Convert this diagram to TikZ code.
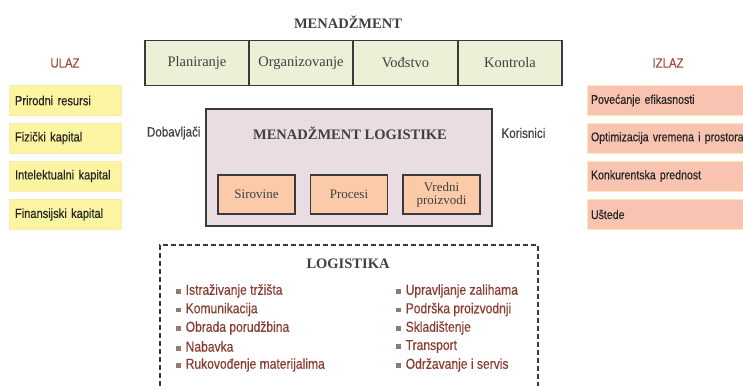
\documentclass[tikz,border=0pt]{standalone}
\usepackage{fontspec}
\setmainfont{Liberation Serif}
\newfontfamily\narrowsf[FakeStretch=0.84,FakeBold=0.35]{Liberation Sans}
\usetikzlibrary{positioning}
\definecolor{mgray}{HTML}{404040}
\definecolor{mborder}{HTML}{3A3A3A}
\definecolor{mgreen}{HTML}{EBF0D6}
\definecolor{myellow}{HTML}{FBF4A0}
\definecolor{msalmon}{HTML}{F8C3B0}
\definecolor{mpink}{HTML}{EADCE3}
\definecolor{mpeach}{HTML}{FBCAA8}
\definecolor{mred}{HTML}{A04A3E}
\definecolor{mlist}{HTML}{8A3B30}
\definecolor{mbullet}{HTML}{8C7D6E}
\newcommand{\sqbullet}{\textcolor{mbullet}{\raisebox{1pt}{\rule{4.5pt}{4.5pt}}}\hspace{5pt}}

\begin{document}
\begin{tikzpicture}[x=1pt, y=-1pt,
    mgmt/.style={draw=mborder, line width=1.4pt, fill=mgreen, minimum width=104pt,
      minimum height=45pt, text=mgray, font=\fontsize{14.5}{16}\selectfont},
    sidebox/.style={minimum height=30pt, inner xsep=6pt, align=left,
      text=black!85, font=\narrowsf\fontsize{13.2}{15}\selectfont},
    inbox/.style={sidebox, fill=myellow, draw=myellow!80!orange!60, line width=0.4pt,
      text width=100pt},
    outbox/.style={sidebox, fill=msalmon, draw=myellow!80!orange!60, line width=0.4pt,
      inner xsep=4pt, text width=164pt, font=\narrowsf\fontsize{12.6}{15}\selectfont},
    heading/.style={text=mgray, font=\bfseries\fontsize{14.5}{16}\selectfont},
    sidelabel/.style={text=mred, font=\narrowsf\fontsize{13.5}{15}\selectfont},
    flowlabel/.style={text=mgray, font=\narrowsf\fontsize{13.8}{15}\selectfont},
    stage/.style={draw=mborder, line width=1.2pt, fill=mpeach, minimum width=77pt,
      minimum height=39pt, align=center, text=mgray, font=\fontsize{13}{15}\selectfont},
    listitem/.style={anchor=west, inner sep=0pt, text=mlist,
      font=\narrowsf\fontsize{14.4}{16}\selectfont}]
  \useasboundingbox (0,0) rectangle (743,385);

  % upravljanje
  \node [heading] (mgmttitle) at (348,22) {MENADŽMENT};
  \node [mgmt] (plan) at (197,63) {Planiranje};
  \node [mgmt] (org) at (301,63) {Organizovanje};
  \node [mgmt] (vodj) at (405.5,63) {Vođstvo};
  \node [mgmt] (kontr) at (510,63) {Kontrola};

  % ulaz i izlaz
  \node [sidelabel] (ulaz) at (65,63) {ULAZ};
  \node [sidelabel] (izlaz) at (668,63) {IZLAZ};
  \node [inbox] (in1) at (65,100.5) {Prirodni resursi};
  \node [inbox] (in2) at (65,138) {Fizički kapital};
  \node [inbox] (in3) at (65,176) {Intelektualni kapital};
  \node [inbox] (in4) at (65,214.5) {Finansijski kapital};
  \node [outbox] (out1) at (673,100.5) {Povećanje efikasnosti};
  \node [outbox] (out2) at (673,138) {Optimizacija vremena i prostora};
  \node [outbox] (out3) at (673,176) {Konkurentska prednost};
  \node [outbox] (out4) at (673,214.5) {Uštede};

  % menadzment logistike
  \node [draw=mborder, line width=1.4pt, fill=mpink, minimum width=286pt,
    minimum height=117pt] (mlog) at (349,167.5) {};
  \node [heading] (mlogtitle) at (350,133) {MENADŽMENT LOGISTIKE};
  \node [stage] (sir) at (256.5,194.5) {Sirovine};
  \node [stage] (proc) at (349,194.5) {Procesi};
  \node [stage] (vred) at (441.5,194.5) {Vredni\\[-2pt]proizvodi};
  \node [flowlabel, anchor=east] (dob) at (204,133) {Dobavljači};
  \node [flowlabel, anchor=west] (kor) at (498,133) {Korisnici};

  % logistika
  \node [draw=mborder, line width=1.5pt, dash pattern=on 5pt off 3pt,
    minimum width=378pt, minimum height=180pt] (logbox) at (349,335) {};
  \node [heading] (logtitle) at (348,264) {LOGISTIKA};
  \node [listitem] (l1) at (176,291) {\sqbullet Istraživanje tržišta};
  \node [listitem] (l2) at (176,309.5) {\sqbullet Komunikacija};
  \node [listitem] (l3) at (176,328) {\sqbullet Obrada porudžbina};
  \node [listitem] (l4) at (176,346.5) {\sqbullet Nabavka};
  \node [listitem] (l5) at (176,365) {\sqbullet Rukovođenje materijalima};
  \node [listitem] (r1) at (396,291) {\sqbullet Upravljanje zalihama};
  \node [listitem] (r2) at (396,309.5) {\sqbullet Podrška proizvodnji};
  \node [listitem] (r3) at (396,328) {\sqbullet Skladištenje};
  \node [listitem] (r4) at (396,346.5) {\sqbullet Transport};
  \node [listitem] (r5) at (396,365) {\sqbullet Održavanje i servis};
\end{tikzpicture}
\end{document}
